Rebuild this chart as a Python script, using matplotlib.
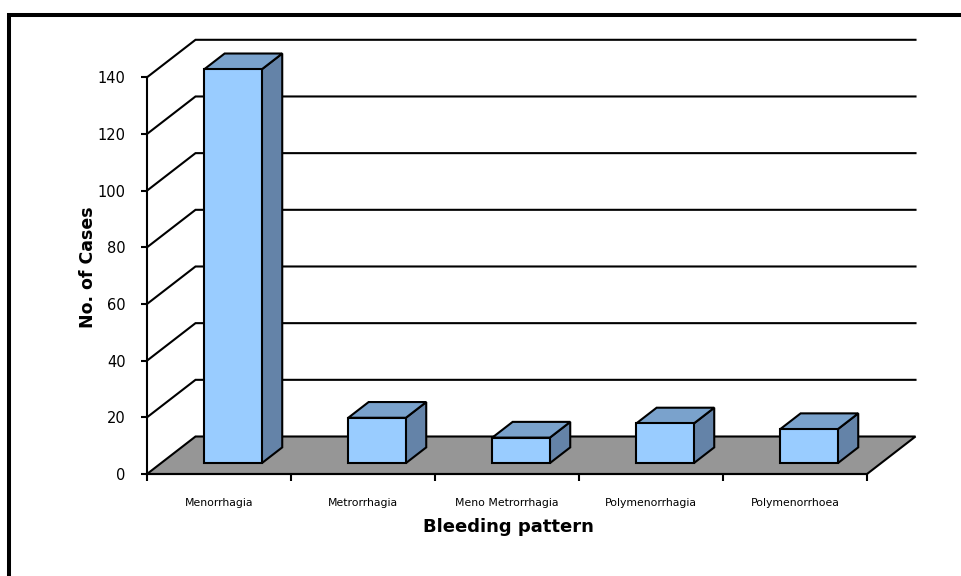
import matplotlib
matplotlib.use('Agg')
import matplotlib.pyplot as plt
from matplotlib.patches import Polygon, Rectangle

# Bleeding pattern counts
categories = ['Menorrhagia', 'Metrorrhagia', 'Meno Metrorrhagia',
              'Polymenorrhagia', 'Polymenorrhoea']
cases = [139, 16, 9, 14, 12]
y_ticks = [0, 20, 40, 60, 80, 100, 120, 140]

# Colours of the 3D boxes and floor
front_color = '#99ccff'
top_color = '#7aa2cc'
side_color = '#6483a8'
floor_color = '#969696'

fig = plt.figure(figsize=(9.62, 5.76), dpi=100)
# front plane of the 3D chart
ax = fig.add_axes([147 / 962, 102 / 576, 720 / 962, 396.7 / 576])
n = len(categories)
ax.set_xlim(0, n)
ax.set_ylim(0, 140)

# depth vector of the box, in pixels, turned into data units
depth_px = (48.5, 37.5)
ox = depth_px[0] / (720 / n)
oy = depth_px[1] / (396.7 / 140)


def proj(x, y, d):
    return (x + d * ox, y + d * oy)


# floor
floor = Polygon([proj(0, 0, 0), proj(n, 0, 0), proj(n, 0, 1), proj(0, 0, 1)],
                closed=True, facecolor=floor_color, edgecolor='black',
                linewidth=1.5, clip_on=False, zorder=1)
ax.add_patch(floor)

# gridlines on the side and back walls
for t in y_ticks[1:]:
    pts = [proj(0, t, 0), proj(0, t, 1), proj(n, t, 1)]
    ax.plot([p[0] for p in pts], [p[1] for p in pts], color='black',
            linewidth=1.5, clip_on=False, zorder=2, solid_joinstyle='miter')

# 3D bars
d0, d1 = 0.29, 0.71
for i, v in enumerate(cases):
    x0, x1 = i + 0.3, i + 0.7
    faces = [
        ([proj(x1, 0, d0), proj(x1, 0, d1), proj(x1, v, d1), proj(x1, v, d0)], side_color),
        ([proj(x0, v, d0), proj(x1, v, d0), proj(x1, v, d1), proj(x0, v, d1)], top_color),
        ([proj(x0, 0, d0), proj(x1, 0, d0), proj(x1, v, d0), proj(x0, v, d0)], front_color),
    ]
    for pts, c in faces:
        ax.add_patch(Polygon(pts, closed=True, facecolor=c, edgecolor='black',
                             linewidth=1.5, joinstyle='miter', clip_on=False,
                             zorder=3))

# axes, ticks and labels
ax.set_facecolor('none')
for s in ['top', 'right']:
    ax.spines[s].set_visible(False)
ax.spines['left'].set_linewidth(1.5)
ax.spines['bottom'].set_linewidth(1.5)
ax.spines['bottom'].set_zorder(4)

ax.set_yticks(y_ticks)
ax.tick_params(axis='y', length=4.5, width=1.5, pad=11, labelsize=10.5,
               direction='out')
ax.set_xticks(range(n + 1))
ax.set_xticklabels([])
ax.set_xticks([i + 0.5 for i in range(n)], minor=True)
ax.set_xticklabels(categories, minor=True, fontsize=7.8)
ax.tick_params(axis='x', which='major', length=5, width=1.5, direction='out')
ax.tick_params(axis='x', which='minor', length=0, pad=17)

ax.set_ylabel('No. of Cases', fontsize=12.5, fontweight='bold', va='center')
ax.yaxis.set_label_coords(-0.0813, 0.5206)
ax.set_xlabel('Bleeding pattern', fontsize=13, fontweight='bold', va='center')
ax.xaxis.set_label_coords(0.5014, -0.1336)

# chart frame
fig.patches.append(Rectangle((9.3 / 962, -0.2), 1.2, 1.2 - 15.3 / 576,
                             transform=fig.transFigure, fill=False,
                             edgecolor='black', linewidth=2.9))

fig.savefig('out.png', dpi=100)
